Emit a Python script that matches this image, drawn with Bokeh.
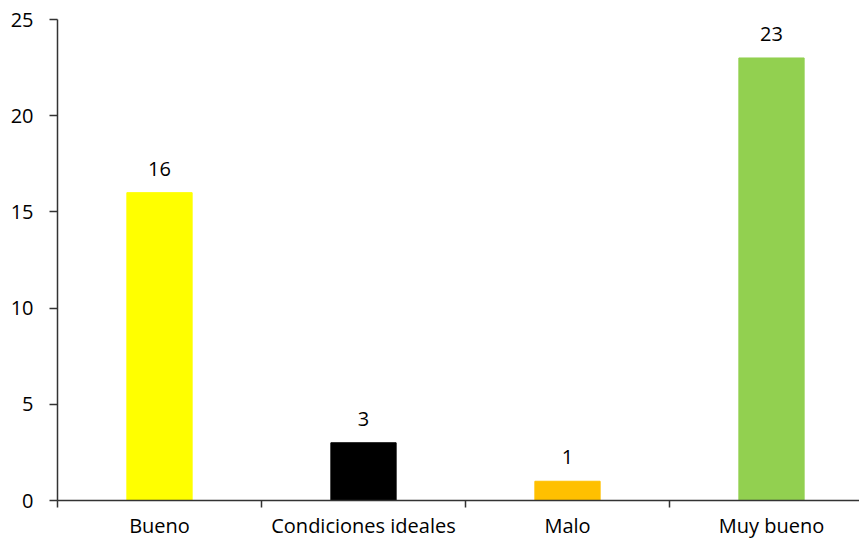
from bokeh.plotting import figure
from bokeh.models import ColumnDataSource, FixedTicker, Range1d
from bokeh.core.properties import value
from bokeh.embed import file_html
from bokeh.resources import INLINE

categories = ["Bueno", "Condiciones ideales", "Malo", "Muy bueno"]
counts = [16, 3, 1, 23]
colors = ["#FFFF00", "#000000", "#FFC000", "#92D050"]
y_ticks = [0, 5, 10, 15, 20, 25]

positions = [i + 0.5 for i in range(len(categories))]
source = ColumnDataSource(dict(x=positions, top=counts, color=colors,
                               label=[str(c) for c in counts]))

FONT = "Open Sans"
W, H = 859, 541
LEFT, TOP, BOTTOM = 57, 19, 39
p = figure(width=W, height=H, output_backend="svg", toolbar_location=None,
           x_range=Range1d(0, (W - LEFT) / 204), y_range=Range1d(0, 25),
           min_border_left=LEFT, min_border_top=TOP, min_border_bottom=BOTTOM,
           min_border_right=0)
p.outline_line_color = None
p.xgrid.visible = False
p.ygrid.visible = False
p.background_fill_color = "white"

p.vbar(x="x", top="top", width=0.32, color="color", source=source)
p.text(x="x", y="top", text="label", source=source, text_align="center",
       text_baseline="alphabetic", y_offset=-24, text_font=value(FONT),
       text_font_size="20px", text_color="#000000")

axis_color = "#333333"
xa = p.xaxis[0]
xa.ticker = FixedTicker(ticks=positions, minor_ticks=list(range(len(categories))))
xa.major_label_overrides = {pos: c for pos, c in zip(positions, categories)}
xa.major_tick_line_color = None
xa.minor_tick_line_color = axis_color
xa.minor_tick_line_width = 1.5
xa.minor_tick_in = 0
xa.minor_tick_out = 7
xa.axis_line_color = axis_color
xa.axis_line_width = 1.5
xa.major_label_text_font = FONT
xa.major_label_text_font_size = "20px"
xa.major_label_text_color = "#000000"
xa.major_label_standoff = 4

ya = p.yaxis[0]
ya.ticker = FixedTicker(ticks=y_ticks, minor_ticks=[])
ya.major_tick_in = 0
ya.major_tick_out = 8
ya.major_tick_line_color = axis_color
ya.major_tick_line_width = 1.5
ya.axis_line_color = axis_color
ya.axis_line_width = 1.5
ya.major_label_text_font = FONT
ya.major_label_text_font_size = "20px"
ya.major_label_text_color = "#000000"
ya.major_label_standoff = 16

open("out.html", "w").write(file_html(p, INLINE))
